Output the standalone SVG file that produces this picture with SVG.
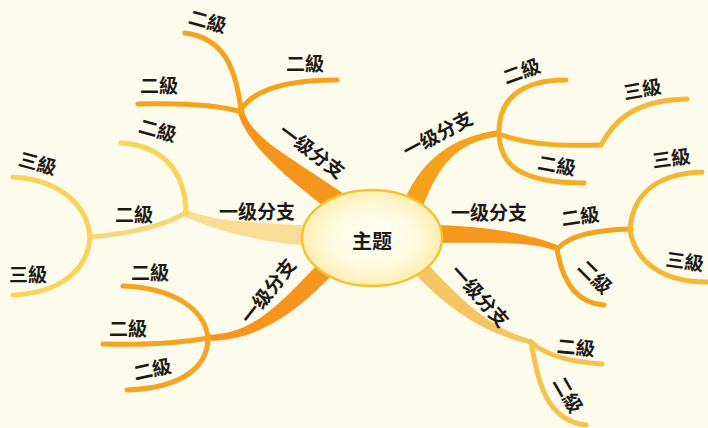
<svg xmlns="http://www.w3.org/2000/svg" width="708" height="428" viewBox="0 0 708 428">
<defs>
<radialGradient id="core" cx="50%" cy="50%" r="50%">
<stop offset="0" stop-color="#fffff8"/>
<stop offset="0.6" stop-color="#fffbe0"/>
<stop offset="1" stop-color="#fdeeb0"/>
</radialGradient>
<style>
.t{font-family:"Noto Sans CJK SC","Noto Sans CJK TC",sans-serif;font-size:19px;font-weight:700;fill:#1c1a16;text-anchor:middle;dominant-baseline:central}
.s{fill:none;stroke-linecap:round;stroke-width:5}
.o1{stroke:#f6a21c}.o2{stroke:#f6ac25}.o3{stroke:#f5a21c}.o4{stroke:#f6a322}.o5{stroke:#f6c24e}.o6{stroke:#f8d45c}.o7{stroke:#f6b636}
</style>
</defs>
<rect width="708" height="428" fill="#fdfbec"/>
<g id="connectors">
<path fill="#f5951e" d="M243,107.4 C249,139.4 296,158.7 356.5,203.1 L343.5,220.9 C284,177.3 243,140.6 237,108.6 Z"/>
<path fill="#f6a11d" d="M498.5,130 C454.5,137 418.6,156.7 398.6,214.7 L417.5,221.3 C437.5,163.3 455.5,143 499.5,136 Z"/>
<path fill="#f6981d" d="M558,245.2 C531,235.2 490,225 425,225 L425,243 C490,243 529,240.8 556,250.8 Z"/>
<path fill="#f7c464" d="M531.6,339.6 C495.6,330.6 465.9,306.6 420.9,256.6 L409.1,267.4 C454.1,317.4 494.4,335.4 530.4,344.4 Z"/>
<path fill="#f7941d" d="M207.1,341 C250.1,340 286.6,324.1 338.6,268.1 L325.4,255.9 C273.4,311.9 249.9,334 206.9,335 Z"/>
<path fill="#f9dd96" d="M183.6,216.2 C213.6,229.2 254.3,242 314.3,246 L315.7,226 C255.7,222 216.4,222.8 186.4,209.8 Z"/>
<path class="s o1" d="M241,110 C236,70 225,38 185,33"/>
<path class="s o1" d="M242,108 C255,90 285,80 337,80"/>
<path class="s o1" d="M138,104 C175,103 215,104 242,112"/>
<path class="s o2" d="M499,134 C498,100 520,80 566,80"/>
<path class="s o2" d="M499,134 C530,146 570,146 601,145"/>
<path class="s o7" d="M601,145 C612,125 630,100 687,99"/>
<path class="s o2" d="M499,134 C500,165 520,183 584,183"/>
<path class="s o3" d="M557,249 C570,235 595,230 631,229"/>
<path class="s o3" d="M557,249 C562,280 575,303 604,305"/>
<path class="s o7" d="M630,230 C632,200 650,174 702,172"/>
<path class="s o7" d="M630,230 C635,260 660,282 707,282"/>
<path class="s o5" d="M531,342 C545,355 570,362 602,364"/>
<path class="s o5" d="M531,342 C538,380 545,420 586,425"/>
<path class="s o4" d="M208,338 C205,310 175,288 123,286"/>
<path class="s o4" d="M208,338 C180,343 140,345 103,344"/>
<path class="s o4" d="M208,338 C208,365 185,388 127,390"/>
<path class="s" stroke="#f8d77a" stroke-width="7" d="M186,212 C170,224 130,234 90,237"/>
<path class="s o6" d="M186,214 C186,180 170,146 121,143"/>
<path class="s o6" d="M90,238 C88,205 60,180 13,177"/>
<path class="s o6" d="M90,237 C88,270 60,293 13,295"/>
</g>
<g id="topic">
<ellipse cx="372" cy="238" rx="70" ry="48" fill="url(#core)" stroke="#f4c232" stroke-width="2.5"/>
<text class="t" x="372" y="240" style="font-size:20px">主题</text>
</g>
<g id="b1"><text class="t" transform="translate(313,150) rotate(37)">一级分支</text></g>
<g id="b1a"><text class="t" transform="translate(208,20) rotate(15)">二級</text></g>
<g id="b1b"><text class="t" transform="translate(305,62)">二級</text></g>
<g id="b1c"><text class="t" transform="translate(159,84)">二級</text></g>
<g id="b2"><text class="t" transform="translate(257,210)">一级分支</text></g>
<g id="b2a"><text class="t" transform="translate(158,129) rotate(15)">二級</text></g>
<g id="b2b"><text class="t" transform="translate(134,213)">二級</text></g>
<g id="b2c"><text class="t" transform="translate(38,162) rotate(15)">三級</text></g>
<g id="b2d"><text class="t" transform="translate(28,273)">三級</text></g>
<g id="b3"><text class="t" transform="translate(267,290) rotate(-52)">一级分支</text></g>
<g id="b3a"><text class="t" transform="translate(150,271)">二級</text></g>
<g id="b3b"><text class="t" transform="translate(128,327)">二級</text></g>
<g id="b3c"><text class="t" transform="translate(152,368) rotate(-12)">二級</text></g>
<g id="b4"><text class="t" transform="translate(437,133) rotate(-28)">一级分支</text></g>
<g id="b4a"><text class="t" transform="translate(521,70) rotate(-20)">二級</text></g>
<g id="b4b"><text class="t" transform="translate(642,88) rotate(-10)">三級</text></g>
<g id="b4c"><text class="t" transform="translate(557,164) rotate(10)">二級</text></g>
<g id="b5"><text class="t" transform="translate(489,211)">一级分支</text></g>
<g id="b5a"><text class="t" transform="translate(580,215) rotate(-8)">二級</text></g>
<g id="b5b"><text class="t" transform="translate(671,157) rotate(-8)">三級</text></g>
<g id="b5c"><text class="t" transform="translate(685,260) rotate(8)">三級</text></g>
<g id="b5d"><text class="t" transform="translate(596,276) rotate(45)">二級</text></g>
<g id="b6"><text class="t" transform="translate(481,295) rotate(48)">一级分支</text></g>
<g id="b6a"><text class="t" transform="translate(576,346) rotate(5)">二級</text></g>
<g id="b6b"><text class="t" transform="translate(569,394) rotate(60)">二級</text></g>
</svg>
